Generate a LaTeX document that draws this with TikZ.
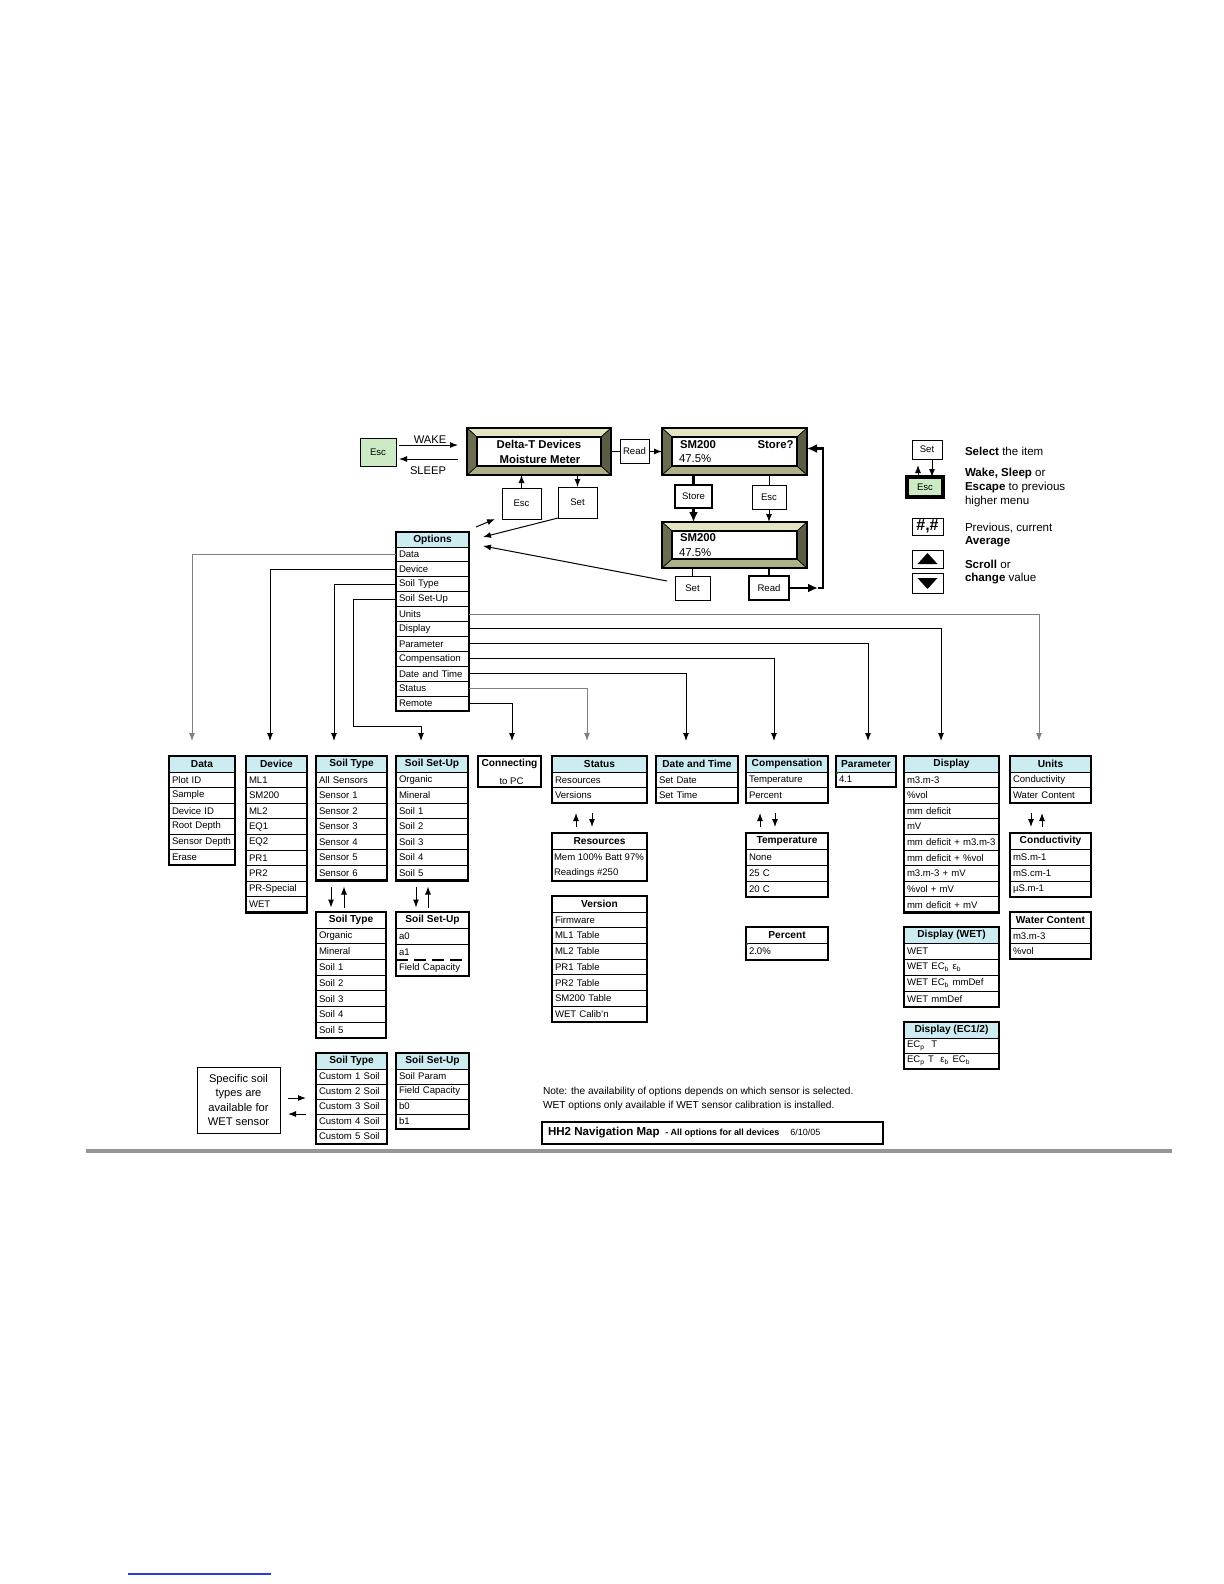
\documentclass[tikz,border=0pt]{standalone}
\usepackage{fontspec}
\setmainfont{Liberation Sans}
\usetikzlibrary{calc,arrows.meta}
\definecolor{hdrblue}{RGB}{204,236,241}
\definecolor{escgreen}{RGB}{204,234,196}
\definecolor{bzlight}{RGB}{228,228,194}
\definecolor{bzmid}{RGB}{176,176,136}
\definecolor{bzdark}{RGB}{108,108,80}
\definecolor{rulegray}{RGB}{150,150,150}
\definecolor{linkblue}{RGB}{40,60,220}
\newcommand\cellfont{\fontsize{4.8}{5.6}\selectfont}
\newcommand\hdrfont{\fontsize{5.1}{6}\selectfont\bfseries}
\newcommand\btnfont{\fontsize{4.8}{5.6}\selectfont}
\newcommand\lgfont{\fontsize{5.8}{7}\selectfont}
\newcommand\lcdfont{\fontsize{5.7}{6.5}\selectfont\bfseries}
\newcommand\tbl[9]{%
  \node[hdrcell, #7, minimum width={#3*0.5bp}, minimum height={#5*0.5bp}] (#1) at (#2,#4) {#8};
  \pgfmathsetlengthmacro\tblw{(#3-6)*0.5bp}%
  \foreach \rowtxt [count=\ri] in {#9} {%
    \node[rowcell, text width=\tblw, minimum height={#6*0.5bp}] (#1-\ri) at (#2,{#4+#5+(\ri-1)*#6}) {\mbox{\rowtxt}};
    \xdef\lastrow{\ri}%
  }%
  \draw[outerline] (#1.north west) rectangle (#1-\lastrow.south east);
}
\newcommand\lcdbox[5]{%
  \node[lcdframe, minimum width={#4*0.5bp}, minimum height={#5*0.5bp}] (#1) at (#2,#3) {};
  \fill[bzlight, draw=black, line width=0.3bp] (#1.north west) -- (#1.north east) -- ($(#1.north east)+(-10,9)$) -- ($(#1.north west)+(10,9)$) -- cycle;
  \fill[bzmid, draw=black, line width=0.3bp] (#1.south west) -- (#1.south east) -- ($(#1.south east)+(-10,-9)$) -- ($(#1.south west)+(10,-9)$) -- cycle;
  \fill[bzdark, draw=black, line width=0.3bp] (#1.north west) -- ($(#1.north west)+(10,9)$) -- ($(#1.south west)+(10,-9)$) -- (#1.south west) -- cycle;
  \fill[bzdark!85!black, draw=black, line width=0.3bp] (#1.north east) -- ($(#1.north east)+(-10,9)$) -- ($(#1.south east)+(-10,-9)$) -- (#1.south east) -- cycle;
  \draw[fill=white, line width=0.6bp] ($(#1.north west)+(10,9)$) rectangle ($(#1.south east)+(-10,-9)$);
  \draw[line width=1.1bp] (#1.north west) rectangle (#1.south east);
}
\begin{document}
\begin{tikzpicture}[x=0.5bp,y=-0.5bp,
  every node/.style={inner sep=0pt,outer sep=0pt},
  hdrcell/.style={draw, line width=0.5bp, anchor=north west, font=\hdrfont, align=center},
  rowcell/.style={draw, line width=0.5bp, anchor=north west, font=\cellfont, align=left, inner xsep=1.5bp, inner ysep=0pt},
  outerline/.style={line width=1.2bp},
  arr/.style={line width=0.5bp, -{Latex[length=4bp,width=3bp]}},
  garr/.style={arr, black!50},
  thickarr/.style={line width=1.3bp, -{Latex[length=5bp,width=4.5bp]}},
  thickline/.style={line width=1.3bp},
  btn/.style={draw, line width=0.5bp, fill=white, font=\btnfont},
  btnthick/.style={btn, line width=1.3bp},
  lcdframe/.style={draw, fill=bzmid, line width=1.1bp},
  lcdtext/.style={font=\lcdfont},
  lgtext/.style={font=\lgfont, anchor=west},
  plain/.style={font=\fontsize{5.6}{6.5}\selectfont}
]
\useasboundingbox[fill=white] (0,0) rectangle (1224,1584);

% ---------- top: LCD screens and buttons
\node[btn, fill=escgreen, minimum width={36*0.5bp}, minimum height={28*0.5bp}] (esc0) at (378,452.5) {Esc};
\lcdbox{lcd1}{539}{451.5}{144}{47}
\lcdbox{lcd2}{734.5}{451.5}{145}{47}
\lcdbox{lcd3}{734.5}{545}{145}{46}
\node[lcdtext] (lcd1a) at ($(lcd1.center)+(0,-7)$) {Delta-T Devices};
\node[lcdtext] (lcd1b) at ($(lcd1.center)+(1,7.5)$) {Moisture Meter};
\node[lcdtext, anchor=west] (lcd2a) at ($(lcd2.center)+(-54.5,-6.5)$) {SM200};
\node[lcdtext, anchor=east] (lcd2b) at ($(lcd2.center)+(59,-6.5)$) {Store?};
\node[lcdtext, anchor=west, font=\fontsize{5.7}{6.5}\selectfont] (lcd2c) at ($(lcd2.center)+(-55.5,7.5)$) {47.5\%};
\node[lcdtext, anchor=west] (lcd3a) at ($(lcd3.center)+(-54.5,-7)$) {SM200};
\node[lcdtext, anchor=west, font=\fontsize{5.7}{6.5}\selectfont] (lcd3c) at ($(lcd3.center)+(-55.5,7.5)$) {47.5\%};

\draw[arr] ($(esc0.east)+(3,-7.5)$) -- ($(lcd1.west)+(-9,-6.5)$);
\draw[arr] ($(lcd1.west)+(-9,7.5)$) -- ($(esc0.east)+(3,6.5)$);
\node[plain] (wake) at (430,439.5) {WAKE};
\node[plain] (sleep) at (428,470.5) {SLEEP};

\node[btn, minimum width={29*0.5bp}, minimum height={24*0.5bp}] (read1) at (634.5,451.5) {Read};
\draw[line width=0.5bp] (lcd1.east) -- (read1.west);
\draw[arr] (read1.east) -- (lcd2.west);

\node[btn, minimum width={39*0.5bp}, minimum height={31*0.5bp}] (escA) at (521.5,503.5) {Esc};
\node[btn, minimum width={39*0.5bp}, minimum height={31*0.5bp}] (setA) at (577.5,502.5) {Set};
\draw[arr] (escA.north) -- (escA.north |- lcd1.south);
\draw[arr] (setA.north |- lcd1.south) -- (setA.north);

\node[btnthick, minimum width={37*0.5bp}, minimum height={23*0.5bp}] (store) at (693.5,496.5) {Store};
\node[btn, minimum width={34*0.5bp}, minimum height={24*0.5bp}] (escB) at (769,497) {Esc};
\draw[thickline] (store.north |- lcd2.south) -- (store.north);
\draw[thickarr] (store.south) -- (store.south |- lcd3.north);
\draw[line width=0.5bp] (escB.north |- lcd2.south) -- (escB.north);
\draw[arr] (escB.south) -- (escB.south |- lcd3.north);

\node[btn, minimum width={35*0.5bp}, minimum height={24*0.5bp}] (setB) at (692.5,588) {Set};
\node[btnthick, minimum width={40*0.5bp}, minimum height={24*0.5bp}] (readB) at (769,588) {Read};
\draw[line width=0.5bp] (setB.north |- lcd3.south) -- (setB.north);
\draw[thickline] (readB.north |- lcd3.south) -- (readB.north);
\coordinate (loopTop) at ($(lcd2.east)+(16,-3)$);
\coordinate (loopBot) at (loopTop |- readB.east);
\draw[thickarr] (readB.east) -- ($(loopBot)+(-5,0)$);
\draw[thickarr] ($(loopBot)+(-5,0)$) -- (loopBot) -- (loopTop) -- (loopTop -| lcd2.east);

% ---------- legend
\node[btn, minimum width={30*0.5bp}, minimum height={19*0.5bp}] (setL) at (927,449.5) {Set};
\node[btn, fill=escgreen, line width=1.6bp, minimum width={36*0.5bp}, minimum height={20*0.5bp}] (escL) at (925,487) {Esc};
\draw[arr] ($(escL.north)+(-7,0)$) -- ++(0,-12);
\draw[arr] ($(setL.south)+(5,0)$) -- ($(escL.north)+(7,0)$);
\node[btn, minimum width={31*0.5bp}, minimum height={17*0.5bp}, font=\fontsize{8}{9}\selectfont\bfseries] (hashL) at (927.5,526.5) {\#,\#};
\node[btn, minimum width={31*0.5bp}, minimum height={18*0.5bp}] (upL) at (927.5,559) {};
\node[btn, minimum width={31*0.5bp}, minimum height={20*0.5bp}] (downL) at (927.5,583) {};
\fill ($(upL.center)+(-10,5)$) -- ($(upL.center)+(10,5)$) -- ($(upL.center)+(0,-6)$) -- cycle;
\fill ($(downL.center)+(-10,-5)$) -- ($(downL.center)+(10,-5)$) -- ($(downL.center)+(0,6)$) -- cycle;
\node[lgtext] (lg1) at (965,451) {\textbf{Select} the item};
\node[lgtext] (lg2) at (965,474) {\textbf{Wake, Sleep} or};
\node[lgtext] (lg3) at (965,488) {\textbf{Escape} to previous};
\node[lgtext] (lg4) at (965,502) {higher menu};
\node[lgtext] (lg5) at (965,528) {Previous, current};
\node[lgtext] (lg6) at (965,542) {\textbf{Average}};
\node[lgtext] (lg7) at (965,564) {\textbf{Scroll} or};
\node[lgtext] (lg8) at (965,579) {\textbf{change} value};

% ---------- options menu
\tbl{opt}{396}{73}{532}{15}{14.9}{fill=hdrblue}{Options}{Data,Device,Soil Type,Soil Set-Up,Units,Display,Parameter,Compensation,Date and Time,Status,Remote}
\draw[arr] ($(opt.north east)+(7,-5)$) -- ($(escA.south west)+(-7,0)$);
\draw[arr] (setA.south west) -- ($(opt.east)+(14,-2.5)$);
\draw[arr] ($(setB.north west)+(-8,5)$) -- ($(opt-1.east)+(14,-8.5)$);

% ---------- second level tables
\tbl{data}{169}{66}{756}{16}{15.5}{fill=hdrblue}{Data}{Plot ID,Sample,Device ID,Root Depth,Sensor Depth,Erase}
\tbl{dev}{246}{61}{756}{16}{15.6}{fill=hdrblue}{Device}{ML1,SM200,ML2,EQ1,EQ2,PR1,PR2,PR-Special,WET}
\tbl{st}{316}{71}{756}{16}{15.5}{fill=hdrblue}{Soil Type}{All Sensors,Sensor 1,Sensor 2,Sensor 3,Sensor 4,Sensor 5,Sensor 6}
\tbl{ssu}{396}{72}{756}{16}{15.5}{fill=hdrblue}{Soil Set-Up}{Organic,Mineral,Soil 1,Soil 2,Soil 3,Soil 4,Soil 5}
\node[draw, line width=1.2bp, anchor=north west, minimum width={63*0.5bp}, minimum height={31*0.5bp}] (pc) at (478,756) {};
\node[font=\hdrfont] (pc1) at ($(pc.center)+(0,-7.5)$) {Connecting};
\node[font=\cellfont] (pc2) at ($(pc.center)+(2,9.5)$) {to PC};
\tbl{stat}{552}{95}{756}{16}{15.5}{fill=hdrblue}{Status}{Resources,Versions}
\tbl{dt}{656}{82}{756}{16}{15.5}{fill=hdrblue}{Date and Time}{Set Date,Set Time}
\tbl{comp}{746}{82}{756}{16}{15.5}{fill=hdrblue}{Compensation}{Temperature,Percent}
\tbl{par}{836}{60}{756}{16}{15}{fill=hdrblue}{Parameter}{4.1}
\tbl{disp}{904}{95}{756}{16}{15.6}{fill=hdrblue}{Display}{m3.m-3,\%vol,mm deficit,mV,mm deficit + m3.m-3,mm deficit + \%vol,m3.m-3 + mV,\%vol + mV,mm deficit + mV}
\tbl{units}{1010}{81}{756}{16}{15.5}{fill=hdrblue}{Units}{Conductivity,Water Content}
\fill[green!40!black] (par-1.north west) -- ++(3,0) -- ++(-3,3) -- cycle;

% connectors from options
\draw[garr] (opt-1.west) -| ($(data.north)+(-10,-15)$);
\draw[arr] (opt-2.west) -| ($(dev.north)+(-6.5,-15)$);
\draw[arr] (opt-3.west) -| ($(st.north)+(-17.5,-15)$);
\draw[arr] (opt-4.west) -| ($(opt-4.west)+(-43,127)$) -| ($(ssu.north)+(-11,-15)$);
\draw[garr] (opt-5.east) -| ($(units.north)+(-11.5,-15)$);
\draw[arr] (opt-6.east) -| ($(disp.north)+(-10.5,-15)$);
\draw[arr] (opt-7.east) -| ($(par.north)+(2,-15)$);
\draw[arr] (opt-8.east) -| ($(comp.north)+(-13,-15)$);
\draw[arr] (opt-9.east) -| ($(dt.north)+(-11,-15)$);
\draw[garr] (opt-10.east) -| ($(stat.north)+(-12.5,-15)$);
\draw[arr] (opt-11.east) -| ($(pc.north)+(2.5,-15)$);

% ---------- third level tables
\node[hdrcell, fill=white, minimum width={95*0.5bp}, minimum height={16*0.5bp}] (res) at (552,833) {Resources};
\node[draw, line width=0.5bp, anchor=north west, minimum width={95*0.5bp}, minimum height={32*0.5bp}] (resb) at (552,849) {};
\node[font=\cellfont, anchor=west] (res1) at ($(resb.west)+(2,-8)$) {Mem 100\% Batt 97\%};
\node[font=\cellfont, anchor=west] (res2) at ($(resb.west)+(2,8)$) {Readings \#250};
\draw[outerline] (res.north west) rectangle (resb.south east);
\tbl{ver}{552}{95}{896}{16}{15.7}{fill=white}{Version}{Firmware,ML1 Table,ML2 Table,PR1 Table,PR2 Table,SM200 Table,WET Calib'n}
\tbl{temp}{746}{82}{833}{16}{16}{fill=white}{Temperature}{None,25 C,20 C}
\tbl{pct}{746}{82}{927}{16}{17}{fill=white}{Percent}{2.0\%}
\fill[green!40!black] (pct-1.north west) -- ++(3,0) -- ++(-3,3) -- cycle;
\tbl{cond}{1010}{81}{833}{16}{16}{fill=white}{Conductivity}{mS.m-1,mS.cm-1,µS.m-1}
\tbl{wc}{1010}{81}{912}{16}{15.5}{fill=white}{Water Content}{m3.m-3,\%vol}
\tbl{dwet}{904}{95}{927}{16}{16}{fill=hdrblue}{Display (WET)}{WET,WET EC\textsubscript{b} ε\textsubscript{b},WET EC\textsubscript{b} mmDef,WET mmDef}
\tbl{dec}{904}{95}{1022}{16}{15.5}{fill=hdrblue}{Display (EC1/2)}{EC\textsubscript{p}\ \ T,EC\textsubscript{p} T\ \ ε\textsubscript{b} EC\textsubscript{b}}
\tbl{st2}{316}{70}{912}{16}{15.7}{fill=white}{Soil Type}{Organic,Mineral,Soil 1,Soil 2,Soil 3,Soil 4,Soil 5}
\tbl{ssu2}{396}{73}{912}{16}{16}{fill=white}{Soil Set-Up}{a0,a1,Field Capacity}
\draw[white, line width=0.8bp] (ssu2-2.south west) -- (ssu2-2.south east);
\draw[line width=1.2bp, dash pattern=on 6bp off 3bp] (ssu2-2.south west) -- (ssu2-2.south east);
\tbl{st3}{316}{71}{1053}{16}{15}{fill=hdrblue}{Soil Type}{Custom 1 Soil,Custom 2 Soil,Custom 3 Soil,Custom 4 Soil,Custom 5 Soil}
\tbl{ssu3}{396}{73}{1053}{16}{15}{fill=hdrblue}{Soil Set-Up}{Soil Param,Field Capacity,b0,b1}

% small up/down arrows between levels
\draw[arr] ($(st-7.south)+(-20.5,6)$) -- ++(0,21);
\draw[arr] ($(st-7.south)+(-7.5,27)$) -- ++(0,-21);
\draw[arr] ($(ssu-7.south)+(-16,6)$) -- ++(0,21);
\draw[arr] ($(ssu-7.south)+(-4,27)$) -- ++(0,-21);
\draw[arr] ($(stat-2.south)+(-23.5,24)$) -- ++(0,-14);
\draw[arr] ($(stat-2.south)+(-7.5,10)$) -- ++(0,14);
\draw[arr] ($(comp-2.south)+(-27,24)$) -- ++(0,-14);
\draw[arr] ($(comp-2.south)+(-12,10)$) -- ++(0,14);
\draw[arr] ($(units-2.south)+(-19.5,10)$) -- ++(0,14);
\draw[arr] ($(units-2.south)+(-8.5,24)$) -- ++(0,-14);

% ---------- WET note box
\node[draw, line width=0.5bp, minimum width={83*0.5bp}, minimum height={66*0.5bp}, align=center, font=\fontsize{5.6}{7.25}\selectfont] (wet) at (238.5,1100) {Specific soil\\types are\\available for\\WET sensor};
\draw[arr] ($(wet.east)+(8,-2)$) -- ($(wet.east)+(26,-2)$);
\draw[arr] ($(wet.east)+(26,14)$) -- ($(wet.east)+(8,14)$);

% ---------- notes and title
\node[anchor=west, align=left, font=\fontsize{5.1}{7}\selectfont] (note) at (543,1099) {Note: the availability of options depends on which sensor is selected.\\WET options only available if WET sensor calibration is installed.};
\node[draw, line width=0.6bp, anchor=north west, minimum width={341*0.5bp}, minimum height={22*0.5bp}] (title) at (542,1122) {};
\node[anchor=west] (titletxt) at ($(title.west)+(6,0)$) {{\fontsize{5.8}{7}\selectfont\bfseries HH2 Navigation Map}\ {\fontsize{4.5}{6}\selectfont\bfseries - All options for all devices}\ \ {\fontsize{4.5}{6}\selectfont 6/10/05}};

\draw[rulegray, line width=1.6bp] (86,1151) -- (1172,1151);
\draw[linkblue, line width=0.6bp] (128,1574) -- (271,1574);
\end{tikzpicture}
\end{document}
